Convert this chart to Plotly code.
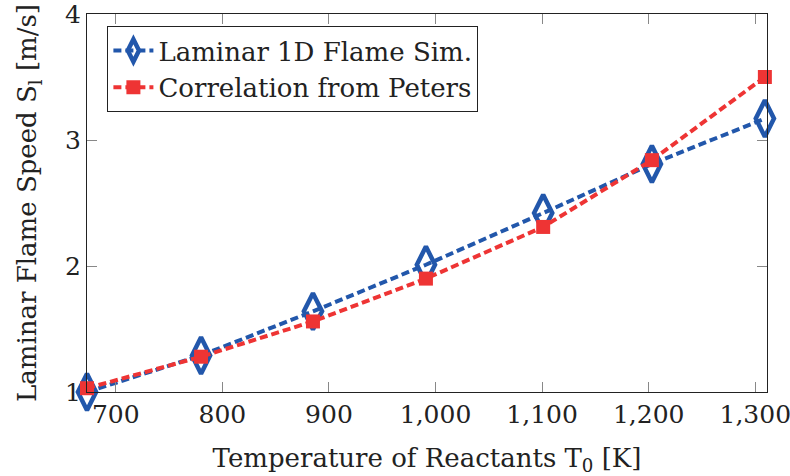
import plotly.graph_objects as go

temps = [673, 780, 885, 991, 1101, 1203, 1309]
sim_speed = [1.0, 1.29, 1.64, 2.01, 2.42, 2.81, 3.17]
peters_speed = [1.03, 1.28, 1.56, 1.90, 2.31, 2.84, 3.50]
x_ticks = [700, 800, 900, 1000, 1100, 1200, 1300]
y_ticks = [1, 2, 3, 4]

blue = "#2257AB"
red = "#EE3434"
font_family = "DejaVu Serif"

fig = go.Figure()
fig.add_trace(go.Scatter(
    x=temps, y=sim_speed, mode="lines+markers", name="Laminar 1D Flame Sim.",
    line=dict(color=blue, width=4, dash="8px,4px"),
    marker=dict(symbol="diamond-tall-open", size=26, color=blue, line=dict(width=4.5, color=blue)),
    cliponaxis=False,
))
fig.add_trace(go.Scatter(
    x=temps, y=peters_speed, mode="lines+markers", name="Correlation from Peters",
    line=dict(color=red, width=4, dash="8px,4px"),
    marker=dict(symbol="square", size=14, color=red),
    cliponaxis=False,
))

axis_common = dict(
    showline=True, linecolor="#222222", linewidth=1, mirror="ticks",
    ticks="inside", ticklen=10, tickwidth=1, tickcolor="#888888",
    showgrid=False, zeroline=False, ticklabeloverflow="allow", automargin=False,
    tickfont=dict(family=font_family, size=25, color="#222222"),
)

fig.update_layout(
    width=790, height=476,
    margin=dict(l=87, r=23, t=14, b=84),
    paper_bgcolor="white", plot_bgcolor="white",
    font=dict(family=font_family, size=26, color="#222222"),
    xaxis=dict(range=[673, 1311], tickvals=x_ticks, tickformat=",",
               title=dict(text="Temperature of Reactants T<sub>0</sub> [K]",
                          font=dict(family=font_family, size=26), standoff=20),
               **axis_common),
    yaxis=dict(range=[1, 4], tickvals=y_ticks,
               title=dict(text="Laminar Flame Speed S<sub>l</sub> [m/s]",
                          font=dict(family=font_family, size=26), standoff=20),
               **axis_common),
    legend=dict(x=0.03, y=0.968, xanchor="left", yanchor="top",
                bordercolor="#222222", borderwidth=1, bgcolor="white",
                font=dict(family=font_family, size=26, color="#222222"),
                itemwidth=40, tracegroupgap=0),
    showlegend=True,
)

fig.write_html("out.html")
